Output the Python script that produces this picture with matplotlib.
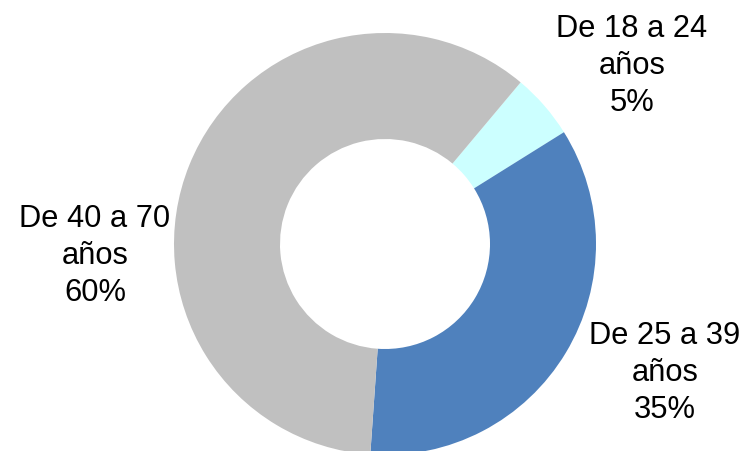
import matplotlib.pyplot as plt

# data
labels = ["De 18 a 24\naños", "De 25 a 39\naños", "De 40 a 70\naños"]
values = [5, 35, 60]
colors = ["#CCFFFF", "#4F81BD", "#C0C0C0"]

plt.rcParams['font.family'] = ['Liberation Sans', 'DejaVu Sans']

W, H = 751, 452
fig = plt.figure(figsize=(W / 100, H / 100), dpi=100)
ax = fig.add_axes([0, 0, 1, 1])

ax.pie(values, colors=colors, startangle=50, counterclock=False,
       center=(385, H - 245), radius=211,
       wedgeprops=dict(width=106, linewidth=0), frame=True)
ax.set_xlim(0, W)
ax.set_ylim(0, H)
ax.set_aspect('equal')
ax.axis('off')

# label positions (pixel coords, y from top)
label_pos = [(632, 66), (665, 373), (95, 256)]
for lab, v, (x, y) in zip(labels, values, label_pos):
    ax.text(x, H - y, f"{lab}\n{v}%", ha='center', va='center',
            fontsize=22.2, linespacing=1.32, color='black')

fig.savefig("out.png", dpi=100)
